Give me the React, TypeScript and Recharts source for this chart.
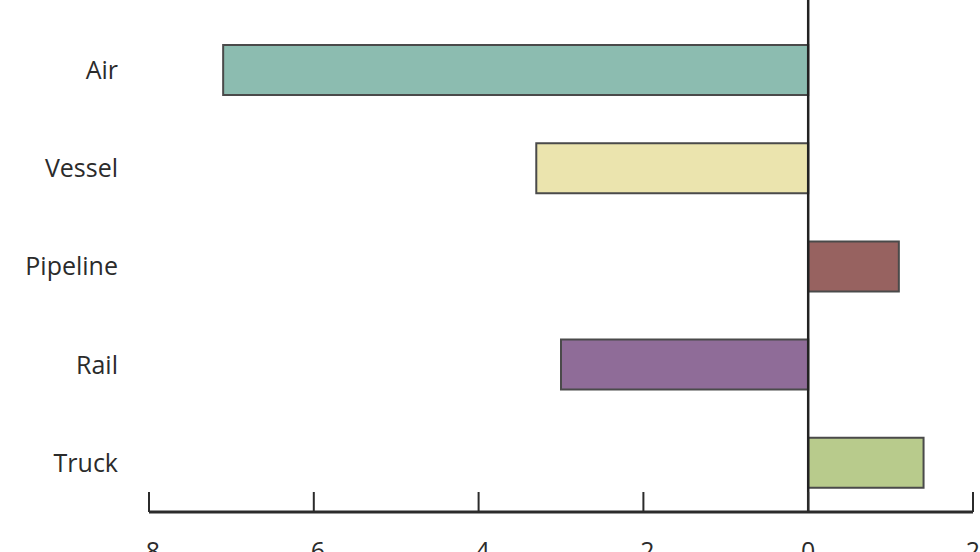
import React from 'react';
import { BarChart, Bar, XAxis, YAxis, Cell, ReferenceLine } from 'recharts';

const modes = ['Air', 'Vessel', 'Pipeline', 'Rail', 'Truck'];
const changes = [-7.1, -3.3, 1.1, -3.0, 1.4];
const barColors = ['#8cbcb0', '#ebe4ae', '#976260', '#8f6c98', '#b8cb8c'];
const xTicks = [-8, -6, -4, -2, 0, 2];

const data = modes.map((mode, i) => ({ mode, value: changes[i] }));

const FONT = '"Open Sans", "DejaVu Sans", sans-serif';
const INK = '#2b2b2b';

// tick marks point up into the plot, labels sit well below the axis line
const XTick = ({ x, y, payload }: any) => (
  <g>
    <line x1={x} y1={y} x2={x} y2={y - 20} stroke={INK} strokeWidth={2} />
    <text x={x} y={y + 48} textAnchor="middle" fill={INK} fontSize={25} fontFamily={FONT}>
      {payload.value}
    </text>
  </g>
);

// zero line runs all the way up to the top edge
const ZeroLine = (props: any) => (
  <line
    x1={props.x1}
    y1={0}
    x2={props.x2}
    y2={Math.max(props.y1, props.y2)}
    stroke="#222"
    strokeWidth={2.5}
  />
);

export default function App() {
  return (
    <div style={{ position: 'absolute', left: 0, top: 0, background: '#fff' }}>
      <BarChart
        width={980}
        height={552}
        data={data}
        layout="vertical"
        margin={{ top: 21, right: 7, bottom: 0, left: 0 }}
      >
        <XAxis
          type="number"
          domain={[-8, 2]}
          ticks={xTicks}
          interval={0}
          height={40}
          axisLine={{ stroke: INK, strokeWidth: 3 }}
          tickLine={false}
          tickSize={0}
          tickMargin={0}
          tick={<XTick />}
        />
        <YAxis
          type="category"
          dataKey="mode"
          width={149}
          axisLine={false}
          tickLine={false}
          tickSize={0}
          tickMargin={31}
          tick={{ fill: INK, fontSize: 25, fontFamily: FONT }}
        />
        <Bar dataKey="value" barSize={50} stroke="#4a4a4a" strokeWidth={2} isAnimationActive={false}>
          {data.map((d, i) => (
            <Cell key={d.mode} fill={barColors[i]} />
          ))}
        </Bar>
        <ReferenceLine x={0} shape={<ZeroLine />} />
      </BarChart>
    </div>
  );
}
